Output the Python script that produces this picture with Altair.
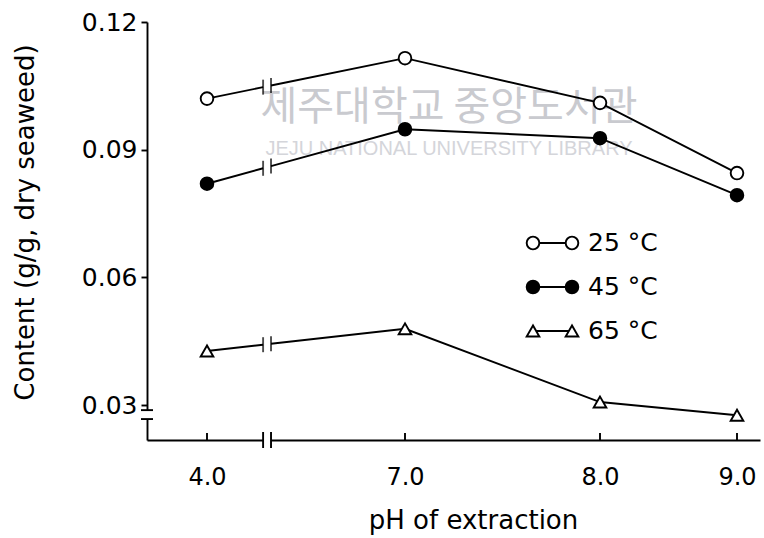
import altair as alt
import pandas as pd

# ---------------- data ----------------
ph = [4.0, 7.0, 8.0, 9.0]
series = ["25 °C", "45 °C", "65 °C"]
c25 = [0.1020, 0.1115, 0.1010, 0.0845]
c45 = [0.0820, 0.0948, 0.0927, 0.0793]
c65 = [0.0427, 0.0479, 0.0307, 0.0276]
y_ticks = [0.03, 0.06, 0.09, 0.12]
break_ph = [4.85, 4.97]          # axis-break marks between pH 4.0 and 7.0
y_break = [0.0288, 0.0267]       # axis-break marks on the y axis
watermark_ko = "제주대학교 중앙도서관"
watermark_en = "JEJU NATIONAL UNIVERSITY   LIBRARY"
x_title = "pH of extraction"
y_title = "Content (g/g, dry seaweed)"

values = {"25 °C": c25, "45 °C": c45, "65 °C": c65}

# ---------------- layout ----------------
W, H = 613, 418
FONT = "DejaVu Sans"
SW = 1.9
xscale = alt.Scale(domain=[3.091, 4.0, 7.0, 8.0, 9.0, 9.168],
                   range=[0, 60, 258, 453, 590, W], nice=False, zero=False)
yscale = alt.Scale(domain=[0.02178, 0.12], nice=False, zero=False)

xaxis = alt.Axis(values=ph, format=".1f", ticks=False, grid=False,
                 domainColor="black", domainWidth=SW,
                 labelFont=FONT, labelFontSize=24, labelColor="black",
                 labelPadding=25, title=x_title, titleFont=FONT,
                 titleFontSize=26, titleFontWeight="normal", titleColor="black",
                 titleX=326, titleY=80, titleBaseline="middle")
yaxis = alt.Axis(values=y_ticks, format=".2f", grid=False,
                 domainColor="black", domainWidth=SW, tickColor="black",
                 tickWidth=SW, tickSize=6, labelPadding=4,
                 labelFont=FONT, labelFontSize=25, labelColor="black",
                 title=y_title, titleFont=FONT, titleFontSize=26,
                 titleFontWeight="normal", titleColor="black",
                 titleX=-122, titleY=200, titleAngle=270,
                 titleAlign="center", titleBaseline="middle")


def X(field="ph"):
    return alt.X(f"{field}:Q", scale=xscale, axis=xaxis)


def Y(field="content"):
    return alt.Y(f"{field}:Q", scale=yscale, axis=yaxis)


# ---------------- tables ----------------
pts = pd.DataFrame([{"series": s, "ph": p, "content": v}
                    for s in series for p, v in zip(ph, values[s])])

line_rows, break_rows = [], []
for s in series:
    v = values[s]
    interp = [v[0] + (v[1] - v[0]) * (b - ph[0]) / (ph[1] - ph[0]) for b in break_ph]
    seg0 = [(ph[0], v[0]), (break_ph[0], interp[0])]
    seg1 = [(break_ph[1], interp[1])] + list(zip(ph[1:], v[1:]))
    for k, seg in enumerate([seg0, seg1]):
        for o, (p, c) in enumerate(seg):
            line_rows.append({"series": s, "key": f"{s}-{k}", "ord": o,
                              "ph": p, "content": c})
    for b, c in zip(break_ph, interp):
        break_rows.append({"series": s, "ph": b, "content": c})
lines_df = pd.DataFrame(line_rows)
breaks_df = pd.DataFrame(break_rows)

# ---------------- layers ----------------
wm = pd.DataFrame({"t": [watermark_ko], "e": [watermark_en]})
watermark = alt.Chart(wm).mark_text(font="Noto Sans CJK KR", fontSize=40,
                                    color="#c9cacf", align="center",
                                    baseline="middle").encode(
    x=alt.value(302), y=alt.value(86), text="t:N")
watermark2 = alt.Chart(wm).mark_text(font="Liberation Sans", fontSize=20,
                                     color="#d4d5da", align="center",
                                     baseline="middle").encode(
    x=alt.value(302), y=alt.value(127), text="e:N")

lines = alt.Chart(lines_df).mark_line(color="black", strokeWidth=SW).encode(
    x=X(), y=Y(), detail="key:N", order="ord:Q")

line_breaks = alt.Chart(breaks_df).mark_tick(
    orient="vertical", color="black", size=15, thickness=SW).encode(x=X(), y=Y())

points = alt.Chart(pts).mark_point(filled=True, stroke="black", strokeWidth=SW,
                                   opacity=1, size=160).encode(
    x=X(), y=Y(),
    shape=alt.Shape("series:N", scale=alt.Scale(domain=series,
                    range=["circle", "circle", "triangle-up"]), legend=None),
    fill=alt.Fill("series:N", scale=alt.Scale(domain=series,
                  range=["white", "black", "white"]), legend=None))

# inward ticks on the x axis
xt = pd.DataFrame({"ph": ph})
xticks = alt.Chart(xt).mark_rule(color="black", strokeWidth=SW).encode(
    x=X(), y=alt.value(H), y2=alt.value(H - 7))

# x-axis break
xb = pd.DataFrame({"ph": [break_ph[0]], "ph2": [break_ph[1]]})
xgap = alt.Chart(xb).mark_rule(color="white", strokeWidth=6).encode(
    x=X(), x2="ph2:Q", y=alt.value(H))
xbd = pd.DataFrame({"ph": break_ph})
xbars = alt.Chart(xbd).mark_rule(color="black", strokeWidth=SW).encode(
    x=X(), y=alt.value(H - 8), y2=alt.value(H + 8))

# y-axis break
yb = pd.DataFrame({"content": [y_break[0]], "content2": [y_break[1]]})
ygap = alt.Chart(yb).mark_rule(color="white", strokeWidth=6).encode(
    y=Y(), y2="content2:Q", x=alt.value(0))
ybd = pd.DataFrame({"content": y_break})
ybars = alt.Chart(ybd).mark_rule(color="black", strokeWidth=SW).encode(
    y=Y(), x=alt.value(-6), x2=alt.value(6))

# in-plot legend
legend_layers = []
sym_shape = {"25 °C": "circle", "45 °C": "circle", "65 °C": "triangle-up"}
sym_fill = {"25 °C": "white", "45 °C": "black", "65 °C": "white"}
for i, s in enumerate(series):
    row = pd.DataFrame({"label": [s]})
    yy = 221 + i * 44
    legend_layers.append(alt.Chart(row).mark_rule(color="black", strokeWidth=SW).encode(
        x=alt.value(386), x2=alt.value(425), y=alt.value(yy)))
    for xx in (386, 425):
        legend_layers.append(alt.Chart(row).mark_point(
            filled=True, stroke="black", strokeWidth=SW, opacity=1, size=160,
            shape=sym_shape[s], fill=sym_fill[s]).encode(
            x=alt.value(xx), y=alt.value(yy)))
    legend_layers.append(alt.Chart(row).mark_text(
        font=FONT, fontSize=25, color="black", align="left",
        baseline="middle").encode(x=alt.value(441), y=alt.value(yy), text="label:N"))

chart = alt.layer(watermark, watermark2, lines, line_breaks, points, xticks,
                  xgap, xbars, ygap, ybars, *legend_layers).properties(
    width=W, height=H,
    autosize=alt.AutoSizeParams(type="none"),
    padding={"left": 147, "top": 22, "right": 4, "bottom": 98},
    background="white",
).configure_view(stroke=None)

chart.save("out.html", embed_options={"renderer": "svg", "actions": False})
